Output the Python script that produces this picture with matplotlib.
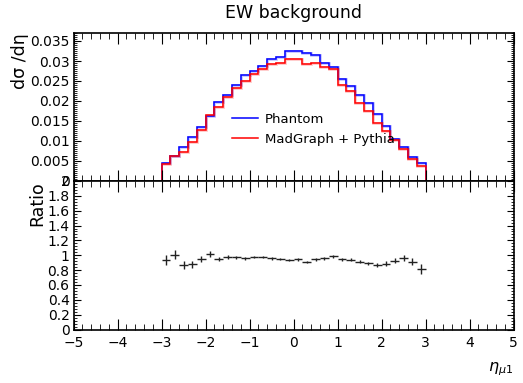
import numpy as np
import matplotlib
matplotlib.use("Agg")
import matplotlib.pyplot as plt
from matplotlib.ticker import MultipleLocator

# bin edges in eta (0.2 wide, -3 .. 3)
edges = np.round(np.arange(-3.0, 3.01, 0.2), 1)
centers = 0.5 * (edges[:-1] + edges[1:])

# dsigma/deta
phantom = [0.0045, 0.0063, 0.0084, 0.0111, 0.0135, 0.0162, 0.0198, 0.0215, 0.0241, 0.0264,
           0.0275, 0.0288, 0.0306, 0.0310, 0.0326, 0.0324, 0.0320, 0.0314, 0.0296, 0.0285,
           0.0254, 0.0238, 0.0214, 0.0196, 0.0168, 0.0138, 0.0106, 0.0084, 0.0060, 0.0045]
madgraph = [0.0042, 0.0063, 0.0072, 0.0097, 0.0128, 0.0164, 0.0184, 0.0210, 0.0233, 0.0250,
            0.0268, 0.0280, 0.0292, 0.0295, 0.0304, 0.0306, 0.0293, 0.0295, 0.0284, 0.0279,
            0.0239, 0.0224, 0.0195, 0.0175, 0.0145, 0.0124, 0.0102, 0.0080, 0.0056, 0.0037]

# ratio points and their errors
ratio = [0.94, 1.01, 0.87, 0.88, 0.95, 1.02, 0.95, 0.98, 0.97, 0.96,
         0.975, 0.975, 0.957, 0.951, 0.935, 0.944, 0.913, 0.944, 0.957, 0.984,
         0.944, 0.940, 0.913, 0.895, 0.864, 0.886, 0.926, 0.966, 0.913, 0.814]
ratio_err = [0.067, 0.063, 0.05, 0.045, 0.04, 0.04, 0.03, 0.025, 0.02, 0.02,
             0.018, 0.015, 0.015, 0.015, 0.015, 0.015, 0.015, 0.015, 0.015, 0.015,
             0.018, 0.02, 0.02, 0.02, 0.025, 0.03, 0.035, 0.04, 0.05, 0.065]

plt.rcParams['font.family'] = 'DejaVu Sans'
fig = plt.figure(figsize=(5.23, 3.83), dpi=100)

L, W = 73.7 / 523, 440 / 523
ax1 = fig.add_axes([L, 1 - 181 / 383, W, 148 / 383])
ax2 = fig.add_axes([L, 1 - 329.5 / 383, W, 148.5 / 383])

# top: histograms (faint band under each line)
ax1.stairs(phantom, edges, color='blue', lw=2, alpha=0.22, baseline=None)
ax1.stairs(madgraph, edges, color='red', lw=2, alpha=0.22, baseline=None)
ax1.stairs(phantom, edges, color='blue', lw=1.1, label='Phantom')
ax1.stairs(madgraph, edges, color='red', lw=1.1, label='MadGraph + Pythia')
ax1.set_xlim(-5, 5)
ax1.set_ylim(0, 0.037)
ax1.yaxis.set_minor_locator(MultipleLocator(0.0005))
ax1.set_yticks([0, 0.005, 0.01, 0.015, 0.02, 0.025, 0.03, 0.035])
ax1.set_yticklabels(['0', '0.005', '0.01', '0.015', '0.02', '0.025', '0.03', '0.035'])
ax1.tick_params(labelbottom=False)
ax1.set_ylabel('dσ /dη', fontsize=12.5, loc='top', labelpad=1)
ax1.set_title('EW background', fontsize=12.5, pad=11)
ax1.legend(loc='center left', bbox_to_anchor=(0.333, 0.35), frameon=False,
           fontsize=9.5, handlelength=2.0, labelspacing=0.55, handletextpad=0.5)

# bottom: ratio
ax2.errorbar(centers, ratio, xerr=0.1, yerr=ratio_err, fmt='none',
             ecolor='#222222', elinewidth=1, capsize=0)
ax2.set_xlim(-5, 5)
ax2.set_ylim(0, 2)
ax2.yaxis.set_minor_locator(MultipleLocator(0.04))
ax2.set_yticks(np.round(np.arange(0, 2.01, 0.2), 1))
ax2.set_yticklabels(['0', '0.2', '0.4', '0.6', '0.8', '1', '1.2', '1.4', '1.6', '1.8', '2'])
ax2.set_ylabel('Ratio', fontsize=12.5, loc='top', labelpad=1)
ax2.set_xlabel(r'$\eta_{\mu 1}$', fontsize=11.5, loc='right', labelpad=7)

for ax in (ax1, ax2):
    ax.xaxis.set_major_locator(MultipleLocator(1))
    ax.xaxis.set_minor_locator(MultipleLocator(0.2))
    ax.tick_params(which='both', direction='in', top=True, right=True, labelsize=10, pad=3)
    ax.tick_params(axis='x', which='major', length=8, pad=5)
    ax.tick_params(axis='x', which='minor', length=4)
    ax.tick_params(axis='y', which='major', length=5)
    ax.tick_params(axis='y', which='minor', length=2.5)
    for s in ax.spines.values():
        s.set_linewidth(1.2)

plt.savefig('out.png', dpi=100)
